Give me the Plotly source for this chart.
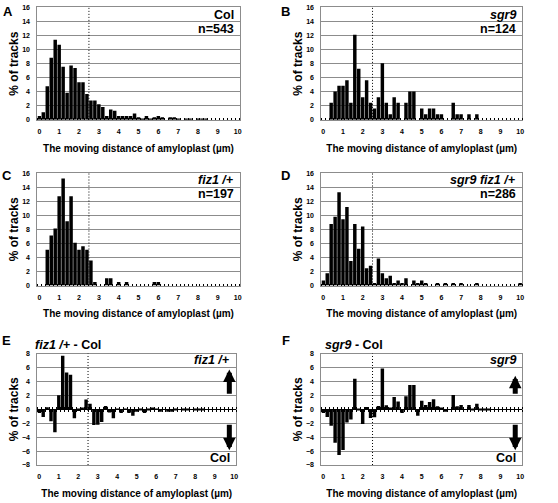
import plotly.graph_objects as go

W, H = 558, 503
FONT = "Arial, 'Liberation Sans', sans-serif"
GRAY = "#8c8c8c"

categories = [0.0, 0.2, 0.4, 0.6, 0.8, 1.0, 1.2, 1.4, 1.6, 1.8,
              2.0, 2.2, 2.4, 2.6, 2.8, 3.0, 3.2, 3.4, 3.6, 3.8,
              4.0, 4.2, 4.4, 4.6, 4.8, 5.0, 5.2, 5.4, 5.6, 5.8,
              6.0, 6.2, 6.4, 6.6, 6.8, 7.0, 7.2, 7.4, 7.6, 7.8,
              8.0, 8.2, 8.4, 8.6, 8.8, 9.0, 9.2, 9.4, 9.6, 9.8, 10.0]
x_tick_labels = ["0", "1", "2", "3", "4", "5", "6", "7", "8", "9", "10"]
x_tick_values = [0, 1, 2, 3, 4, 5, 6, 7, 8, 9, 10]

col_pct = [0.55, 1.10, 4.79, 8.84, 11.42, 10.68, 7.55, 3.87, 7.73, 7.37,
           5.34, 5.34, 3.68, 2.76, 2.76, 2.21, 1.84, 0.55, 1.47, 1.29,
           0.55, 0.55, 0.55, 0.55, 0.92, 0.37, 0.18, 0.55, 0.18, 0.37,
           0.55, 0.37, 0.0, 0.37, 0.37, 0.18, 0.0, 0.18, 0.18, 0.0,
           0.18, 0.18, 0.18, 0.0, 0.0, 0.0, 0.0, 0.0, 0.0, 0.0, 0.0]
sgr9_pct = [0.0, 0.0, 2.42, 4.03, 4.84, 4.84, 5.65, 2.42, 12.10, 7.26,
            3.23, 5.65, 2.42, 1.61, 3.23, 8.06, 2.42, 0.81, 3.23, 2.42,
            0.0, 2.42, 4.03, 4.03, 0.0, 1.61, 0.81, 1.61, 1.61, 0.81,
            0.81, 0.0, 0.0, 2.42, 0.81, 0.81, 0.0, 0.81, 0.0, 0.81,
            0.0, 0.0, 0.0, 0.0, 0.0, 0.0, 0.0, 0.0, 0.0, 0.0, 0.0]
fiz1_pct = [0.0, 0.0, 5.08, 7.11, 8.12, 12.69, 15.23, 9.14, 12.69, 6.09,
            5.08, 5.58, 5.08, 3.55, 0.51, 0.0, 0.0, 1.02, 1.02, 0.0,
            0.51, 0.0, 0.51, 0.0, 0.0, 0.0, 0.0, 0.0, 0.0, 0.51,
            0.51, 0.0, 0.0, 0.0, 0.0, 0.0, 0.0, 0.0, 0.0, 0.0,
            0.0, 0.0, 0.0, 0.0, 0.0, 0.0, 0.0, 0.0, 0.0, 0.0, 0.0]
sgr9_fiz1_pct = [0.70, 1.75, 8.74, 9.79, 13.29, 9.44, 11.19, 3.50, 8.74, 5.24,
                 8.39, 2.45, 2.80, 0.35, 3.85, 1.75, 1.05, 1.40, 0.35, 0.70,
                 0.35, 1.05, 0.0, 0.70, 0.35, 0.70, 0.35, 0.0, 0.0, 0.35,
                 0.0, 0.35, 0.0, 0.35, 0.0, 0.35, 0.0, 0.0, 0.0, 0.35,
                 0.0, 0.0, 0.0, 0.0, 0.0, 0.0, 0.0, 0.0, 0.0, 0.0, 0.35]
fiz1_minus_col = [-0.55, -1.10, 0.29, -1.73, -3.30, 2.01, 7.68, 5.27, 4.96, -1.28,
                  -0.26, 0.24, 1.40, 0.79, -2.25, -2.21, -1.84, 0.47, -0.45, -1.29,
                  -0.04, -0.55, -0.04, -0.55, -0.92, -0.37, -0.18, -0.55, -0.18, 0.14,
                  -0.04, -0.37, 0.0, -0.37, -0.37, -0.18, 0.0, -0.18, -0.18, 0.0,
                  -0.18, -0.18, -0.18, 0.0, 0.0, 0.0, 0.0, 0.0, 0.0, 0.0, 0.0]
sgr9_minus_col = [-0.55, -1.10, -2.37, -4.81, -6.58, -5.84, -1.90, -1.45, 4.37, -0.11,
                  -2.11, 0.31, -1.26, -1.15, 0.47, 5.85, 0.58, 0.26, 1.76, 1.13,
                  -0.55, 1.87, 3.48, 3.48, -0.92, 1.24, 0.63, 1.06, 1.43, 0.44,
                  0.26, -0.37, 0.0, 2.05, 0.44, 0.63, 0.0, 0.63, -0.18, 0.81,
                  -0.18, -0.18, -0.18, 0.0, 0.0, 0.0, 0.0, 0.0, 0.0, 0.0, 0.0]

panels = [
    dict(letter="A", vals=col_pct, xd=(37.5, 240.5), yd=(3.5, 117.5), kind="hist",
         lab1="<b>Col</b>", lab2="<b>n=543</b>", lpos=(8, 8)),
    dict(letter="B", vals=sgr9_pct, xd=(322.5, 524), yd=(3.5, 117.5), kind="hist",
         lab1="<b><i>sgr9</i></b>", lab2="<b>n=124</b>", lpos=(287, 8)),
    dict(letter="C", vals=fiz1_pct, xd=(37.5, 240.5), yd=(171.5, 285.5), kind="hist",
         lab1="<b><i>fiz1 /+</i></b>", lab2="<b>n=197</b>", lpos=(7, 174)),
    dict(letter="D", vals=sgr9_fiz1_pct, xd=(322.5, 524), yd=(171.5, 285.5), kind="hist",
         lab1="<b><i>sgr9 fiz1 /+</i></b>", lab2="<b>n=286</b>", lpos=(287, 174)),
    dict(letter="E", vals=fiz1_minus_col, xd=(37.5, 237), yd=(354.5, 467.5), kind="diff",
         lab1="<b><i>fiz1 /+</i></b>", lab2="<b>Col</b>", lpos=(7, 341),
         title="<b><i>fiz1 /+</i> - Col</b>", tpos=(33, 346), up_tip=5.7),
    dict(letter="F", vals=sgr9_minus_col, xd=(322.5, 524), yd=(354.5, 467.5), kind="diff",
         lab1="<b><i>sgr9</i></b>", lab2="<b>Col</b>", lpos=(287, 341),
         title="<b><i>sgr9</i> - Col</b>", tpos=(324, 346), up_tip=4.8),
]

fig = go.Figure()
annotations = []
shapes = []
layout = {}
extra = 7

for i, p in enumerate(panels, start=1):
    xa = "x" if i == 1 else f"x{i}"
    ya = "y" if i == 1 else f"y{i}"
    xkey = "xaxis" if i == 1 else f"xaxis{i}"
    ykey = "yaxis" if i == 1 else f"yaxis{i}"
    xdom = [p["xd"][0] / W, p["xd"][1] / W]
    ydom = [1 - p["yd"][1] / H, 1 - p["yd"][0] / H]
    hist = p["kind"] == "hist"
    yr = [0, 16] if hist else [-8, 8]

    fig.add_trace(go.Bar(x=categories, y=p["vals"], xaxis=xa, yaxis=ya,
                         marker=dict(color="black", line=dict(width=0)),
                         showlegend=False, hoverinfo="skip"))

    xax = dict(domain=xdom, anchor=ya, range=[-0.1, 10.1],
               tickmode="array", tickvals=x_tick_values, ticktext=x_tick_labels,
               ticks="", showgrid=False, zeroline=False,
               showline=True, linecolor=GRAY, linewidth=1, mirror=True,
               tickfont=dict(family=FONT, size=7, color="black", weight="bold"),
               ticklabelstandoff=5,
               title=dict(text="The moving distance of amyloplast (µm)",
                          font=dict(family=FONT, size=10, color="black", weight="bold"),
                          standoff=10))
    if hist:
        xax["minor"] = dict(ticks="inside", ticklen=2, tickcolor="black", tickwidth=1,
                            tick0=0.1, dtick=0.2, showgrid=False)
    layout[xkey] = xax
    layout[ykey] = dict(domain=ydom, anchor=xa, range=yr, dtick=2, tick0=0,
                        showgrid=True, gridcolor=GRAY, gridwidth=1,
                        zeroline=not hist, zerolinecolor="black", zerolinewidth=1,
                        showline=True, linecolor=GRAY, linewidth=1, mirror=True,
                        ticks="", ticklabelstandoff=5,
                        tickfont=dict(family=FONT, size=7, color="black", weight="bold"),
                        title=dict(text="% of tracks",
                                   font=dict(family=FONT, size=12, color="black", weight="bold"),
                                   standoff=0))

    # dotted reference line at 2.5 µm
    shapes.append(dict(type="line", xref=xa, yref=f"{ya} domain", x0=2.5, x1=2.5,
                       y0=0, y1=1, line=dict(color="black", width=1, dash="1px,2px")))

    # panel letter
    annotations.append(dict(text=f"<b>{p['letter']}</b>", xref="paper", yref="paper",
                            x=p["lpos"][0] / W, y=1 - p["lpos"][1] / H,
                            xanchor="center", yanchor="middle", showarrow=False,
                            font=dict(family=FONT, size=13, color="black")))

    if hist:
        annotations.append(dict(text=p["lab1"], xref=f"{xa} domain", yref=ya,
                                x=1, y=14.95, xanchor="right", yanchor="middle", xshift=-4,
                                showarrow=False, font=dict(family=FONT, size=12.5, color="black")))
        annotations.append(dict(text=p["lab2"], xref=f"{xa} domain", yref=ya,
                                x=1, y=13.0, xanchor="right", yanchor="middle", xshift=-4,
                                showarrow=False, font=dict(family=FONT, size=12.5, color="black")))
    else:
        annotations.append(dict(text=p["title"], xref="paper", yref="paper",
                                x=p["tpos"][0] / W, y=1 - p["tpos"][1] / H,
                                xanchor="left", yanchor="middle", showarrow=False,
                                font=dict(family=FONT, size=12.5, color="black")))
        annotations.append(dict(text=p["lab1"], xref=f"{xa} domain", yref=ya,
                                x=1, y=7.05, xanchor="right", yanchor="middle", xshift=-4,
                                showarrow=False, font=dict(family=FONT, size=12.5, color="black")))
        annotations.append(dict(text=p["lab2"], xref=f"{xa} domain", yref=ya,
                                x=1, y=-7.0, xanchor="right", yanchor="middle", xshift=-4,
                                showarrow=False, font=dict(family=FONT, size=12.5, color="black")))
        # arrows
        annotations.append(dict(text="", x=9.75, y=p["up_tip"], ax=9.75, ay=2.0,
                                xref=xa, yref=ya, axref=xa, ayref=ya, showarrow=True,
                                arrowhead=2, arrowwidth=5, arrowsize=0.5, arrowcolor="black"))
        annotations.append(dict(text="", x=9.75, y=-5.9, ax=9.75, ay=-2.0,
                                xref=xa, yref=ya, axref=xa, ayref=ya, showarrow=True,
                                arrowhead=2, arrowwidth=5, arrowsize=0.5, arrowcolor="black"))
        # category tick marks crossing the zero line
        ymid = (ydom[0] + ydom[1]) / 2
        for side_ticks in ("inside", "outside"):
            k = extra
            extra += 1
            layout[f"xaxis{k}"] = dict(overlaying=xa, anchor="free", position=ymid,
                                       range=[-0.1, 10.1], showline=False, showgrid=False,
                                       zeroline=False, showticklabels=False, ticks="",
                                       minor=dict(ticks=side_ticks, ticklen=2, tickcolor="black",
                                                  tickwidth=1, tick0=0.1, dtick=0.2,
                                                  showgrid=False))
            fig.add_trace(go.Scatter(x=[None], y=[None], xaxis=f"x{k}", yaxis=ya,
                                     showlegend=False, hoverinfo="skip"))

fig.update_layout(width=W, height=H, margin=dict(l=0, r=0, t=0, b=0),
                  paper_bgcolor="white", plot_bgcolor="white",
                  bargap=0.12, font=dict(family=FONT, color="black"),
                  annotations=annotations, shapes=shapes, **layout)

fig.write_html("out.html", config={"displayModeBar": False},
               post_script="document.body.style.margin='0px';")
